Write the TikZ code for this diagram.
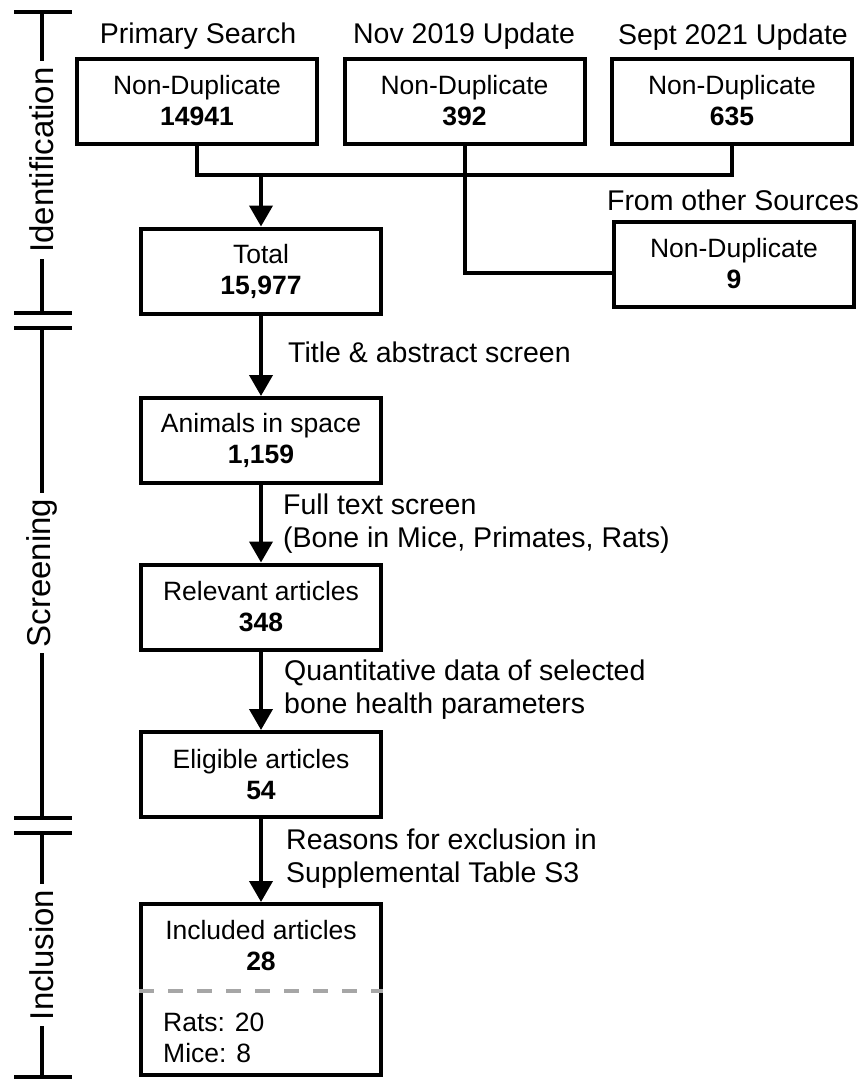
\documentclass[tikz,border=0pt]{standalone}
\usepackage{fontspec}
\setmainfont{Liberation Sans}
\usepackage{tikz}
\usetikzlibrary{arrows.meta}

\begin{document}
\begin{tikzpicture}[x=1pt,y=-1pt,
  box/.style={draw,line width=4pt,minimum width=240pt,minimum height=85pt,
    align=center,inner sep=0pt,font=\fontsize{26.5}{31}\selectfont},
  boxtext/.style={align=center,inner sep=0pt,font=\fontsize{26.5}{31}\selectfont},
  toplab/.style={inner sep=0pt,font=\fontsize{28.5}{33}\selectfont},
  steplab/.style={anchor=west,align=left,inner sep=0pt,font=\fontsize{28.5}{33}\selectfont},
  phase/.style={rotate=90,fill=white,inner xsep=6pt,inner ysep=0pt,font=\fontsize{33}{38}\selectfont},
  conn/.style={line width=4pt},
  arr/.style={line width=4pt,-{Triangle[width=23pt,length=21pt]}},
  tick/.style={line width=4pt}]
 \useasboundingbox (0,0) rectangle (861,1079);
 % phases on the left
 \draw[tick] (42,12) -- (42,313);
 \draw[tick] (42,328) -- (42,818);
 \draw[tick] (42,833) -- (42,1077);
 \foreach \y in {12,313,328,818,833,1077}
   \draw[tick] (14,\y) -- (72,\y);
 \node[phase] (ident) at (42,160) {Identification};
 \node[phase] (screen) at (42,573) {Screening};
 \node[phase] (incls) at (42,955) {Inclusion};
 % sources
 \node[toplab] (primlab) at (198,36) {Primary Search};
 \node[toplab] (novlab) at (464,36) {Nov 2019 Update};
 \node[toplab] (septlab) at (733,37) {Sept 2021 Update};
 \node[toplab] (othlab) at (733,200) {From other Sources};
 \node[box] (prim) at (197,101) {Non-Duplicate\\\textbf{14941}};
 \node[box] (nov) at (464.5,101) {Non-Duplicate\\\textbf{392}};
 \node[box] (sept) at (732,101) {Non-Duplicate\\\textbf{635}};
 \node[box] (oth) at (734,264) {Non-Duplicate\\\textbf{9}};
 \coordinate (junc) at (261,175);
 \draw[conn] (prim.south) -- (prim.south |- junc) -| (sept.south);
 \draw[conn] (nov.south) |- ([yshift=-9pt]oth.west);
 % main column
 \node[box] (total) at (261,271) {Total\\\textbf{15,977}};
 \node[box] (anim) at (261,440.5) {Animals in space\\\textbf{1,159}};
 \node[box] (relev) at (261,607) {Relevant articles\\\textbf{348}};
 \node[box] (elig) at (261,774.5) {Eligible articles\\\textbf{54}};
 \node[box,minimum height=171pt] (incl) at (261,989.5) {};
 \node[boxtext] (incltxt) at (261,946) {Included articles\\\textbf{28}};
 \draw[line width=4.5pt,color=black!35,dash pattern=on 15pt off 14pt] ([yshift=-1.5pt]incl.west) -- ([yshift=-1.5pt]incl.east);
 \node[boxtext,anchor=west,align=left] (species) at (163,1037.5) {Rats: 20\\Mice: 8};
 \draw[arr] (junc) -- (total.north);
 \draw[arr] (total) -- (anim);
 \draw[arr] (anim) -- (relev);
 \draw[arr] (relev) -- (elig);
 \draw[arr] (elig) -- (incl);
 % screening steps
 \node[steplab] (s1) at (288,352) {Title \& abstract screen};
 \node[steplab] (s2) at (283,523.5) {Full text screen\\(Bone in Mice, Primates, Rats)};
 \node[steplab] (s3) at (284,690) {Quantitative data of selected\\bone health parameters};
 \node[steplab] (s4) at (286,858.5) {Reasons for exclusion in\\Supplemental Table S3};
\end{tikzpicture}
\end{document}
